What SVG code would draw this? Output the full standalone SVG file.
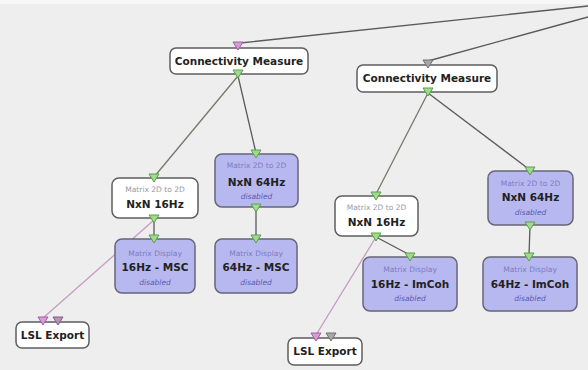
<svg xmlns="http://www.w3.org/2000/svg" xmlns:xlink="http://www.w3.org/1999/xlink" width="588" height="370" viewBox="0 0 588 370">
  <defs>
    <style>
      .bg { fill: #eeeeee; }
      .node { fill: #ffffff; stroke: #5e5e5e; stroke-width: 1.5; }
      .node-off { fill: #b8b8f0; stroke: #666677; stroke-width: 1.5; }
      .inner { fill: none; stroke: #d8d8d8; stroke-width: 1; }
      .inner-off { fill: none; stroke: #cfcff8; stroke-width: 1; }
      .title { font-family: "DejaVu Sans", "Liberation Sans", sans-serif; font-weight: bold; font-size: 10.5px; fill: #222222; text-anchor: middle; }
      .kind { font-family: "DejaVu Sans", "Liberation Sans", sans-serif; font-size: 7.5px; fill: #9a9aa8; text-anchor: middle; }
      .kind-off { font-family: "DejaVu Sans", "Liberation Sans", sans-serif; font-size: 7.5px; fill: #7c7cc4; text-anchor: middle; }
      .state { font-family: "DejaVu Sans", "Liberation Sans", sans-serif; font-style: italic; font-size: 7.5px; fill: #5a5ab0; text-anchor: middle; }
      .wire { fill: none; stroke: #5a5a5a; stroke-width: 1.3; }
      .wire-data { fill: none; stroke: #737a66; stroke-width: 1.3; }
      .wire-marker { fill: none; stroke: #c49cc4; stroke-width: 1.3; }
      .p-green { fill: #9edc8c; stroke: #5e9e4e; stroke-width: 1; }
      .p-pink { fill: #d89ad8; stroke: #a060a0; stroke-width: 1; }
      .p-gray { fill: #a8a8a8; stroke: #707070; stroke-width: 1; }
      .p-mauve { fill: #b890b8; stroke: #806080; stroke-width: 1; }
    </style>
    <!-- downward port triangle centred on the node edge -->
    <path id="port" d="M -5 -4 L 5 -4 L 0 4 Z"/>
  </defs>

  <rect class="bg" x="0" y="0" width="588" height="370"/>
  <rect x="0" y="0" width="588" height="4" fill="#f7f7f7"/>

  <!-- connectors -->
  <g id="connectors">
    <line class="wire" x1="240" y1="43" x2="588" y2="6"/>
    <line class="wire" x1="428" y1="61" x2="588" y2="17"/>
    <line class="wire-data" x1="238" y1="76" x2="154" y2="177"/>
    <line class="wire" x1="238" y1="76" x2="256" y2="153"/>
    <line class="wire-marker" x1="154" y1="220" x2="43" y2="318"/>
    <line class="wire" x1="154" y1="219" x2="154" y2="238"/>
    <line class="wire" x1="256" y1="208" x2="256" y2="238"/>
    <line class="wire-data" x1="428" y1="93" x2="376" y2="194"/>
    <line class="wire" x1="428" y1="93" x2="530" y2="170"/>
    <line class="wire-marker" x1="376" y1="237" x2="316" y2="335"/>
    <line class="wire" x1="376" y1="237" x2="410" y2="255"/>
    <line class="wire" x1="530" y1="226" x2="529" y2="255"/>
  </g>

  <!-- left branch -->
  <g id="connectivity-measure-1">
    <rect class="node" x="170" y="48" width="138" height="26" rx="6"/>
    <text class="title" x="239" y="65">Connectivity Measure</text>
    <use href="#port" class="p-pink" x="238" y="46"/>
    <use href="#port" class="p-green" x="238" y="74"/>
  </g>

  <g id="nxn-16hz-1">
    <rect class="node" x="112" y="178" width="86" height="40" rx="7"/>
    <text class="kind" x="155" y="192">Matrix 2D to 2D</text>
    <text class="title" x="155" y="208">NxN 16Hz</text>
    <use href="#port" class="p-green" x="154" y="178"/>
    <use href="#port" class="p-green" x="154" y="219"/>
  </g>

  <g id="nxn-64hz-1">
    <rect class="node-off" x="215" y="154" width="83" height="53" rx="7"/>
    <text class="kind-off" x="256.5" y="168">Matrix 2D to 2D</text>
    <text class="title" x="256.5" y="186">NxN 64Hz</text>
    <text class="state" x="256.5" y="199">disabled</text>
    <use href="#port" class="p-green" x="256" y="154"/>
    <use href="#port" class="p-green" x="256" y="208"/>
  </g>

  <g id="display-16hz-msc">
    <rect class="node-off" x="115" y="239" width="80" height="54" rx="7"/>
    <text class="kind-off" x="155" y="256">Matrix Display</text>
    <text class="title" x="155" y="271">16Hz - MSC</text>
    <text class="state" x="155" y="285">disabled</text>
    <use href="#port" class="p-green" x="154" y="239"/>
  </g>

  <g id="display-64hz-msc">
    <rect class="node-off" x="215" y="239" width="82" height="54" rx="7"/>
    <text class="kind-off" x="256" y="256">Matrix Display</text>
    <text class="title" x="256" y="271">64Hz - MSC</text>
    <text class="state" x="256" y="285">disabled</text>
    <use href="#port" class="p-green" x="256" y="239"/>
  </g>

  <g id="lsl-export-1">
    <rect class="node" x="16" y="322" width="73" height="26" rx="6"/>
    <text class="title" x="52.5" y="339">LSL Export</text>
    <use href="#port" class="p-pink" x="43" y="321"/>
    <use href="#port" class="p-mauve" x="58" y="321"/>
  </g>

  <!-- right branch -->
  <g id="connectivity-measure-2">
    <rect class="node" x="357" y="65" width="140" height="27" rx="6"/>
    <text class="title" x="427" y="82">Connectivity Measure</text>
    <use href="#port" class="p-gray" x="428" y="64"/>
    <use href="#port" class="p-green" x="428" y="92"/>
  </g>

  <g id="nxn-16hz-2">
    <rect class="node" x="335" y="196" width="83" height="40" rx="7"/>
    <text class="kind" x="376.5" y="210">Matrix 2D to 2D</text>
    <text class="title" x="376.5" y="226">NxN 16Hz</text>
    <use href="#port" class="p-green" x="376" y="196"/>
    <use href="#port" class="p-green" x="376" y="237"/>
  </g>

  <g id="nxn-64hz-2">
    <rect class="node-off" x="488" y="171" width="85" height="54" rx="7"/>
    <text class="kind-off" x="530.5" y="186">Matrix 2D to 2D</text>
    <text class="title" x="530.5" y="201">NxN 64Hz</text>
    <text class="state" x="530.5" y="215">disabled</text>
    <use href="#port" class="p-green" x="530" y="171"/>
    <use href="#port" class="p-green" x="530" y="226"/>
  </g>

  <g id="display-16hz-imcoh">
    <rect class="node-off" x="363" y="257" width="94" height="54" rx="7"/>
    <text class="kind-off" x="410" y="272">Matrix Display</text>
    <text class="title" x="410" y="288">16Hz - ImCoh</text>
    <text class="state" x="410" y="301">disabled</text>
    <use href="#port" class="p-green" x="410" y="257"/>
  </g>

  <g id="display-64hz-imcoh">
    <rect class="node-off" x="483" y="257" width="94" height="54" rx="7"/>
    <text class="kind-off" x="530" y="272">Matrix Display</text>
    <text class="title" x="530" y="288">64Hz - ImCoh</text>
    <text class="state" x="530" y="301">disabled</text>
    <use href="#port" class="p-green" x="529" y="257"/>
  </g>

  <g id="lsl-export-2">
    <rect class="node" x="288" y="338" width="74" height="27" rx="6"/>
    <text class="title" x="325" y="355">LSL Export</text>
    <use href="#port" class="p-pink" x="316" y="337"/>
    <use href="#port" class="p-gray" x="331" y="337"/>
  </g>
</svg>
